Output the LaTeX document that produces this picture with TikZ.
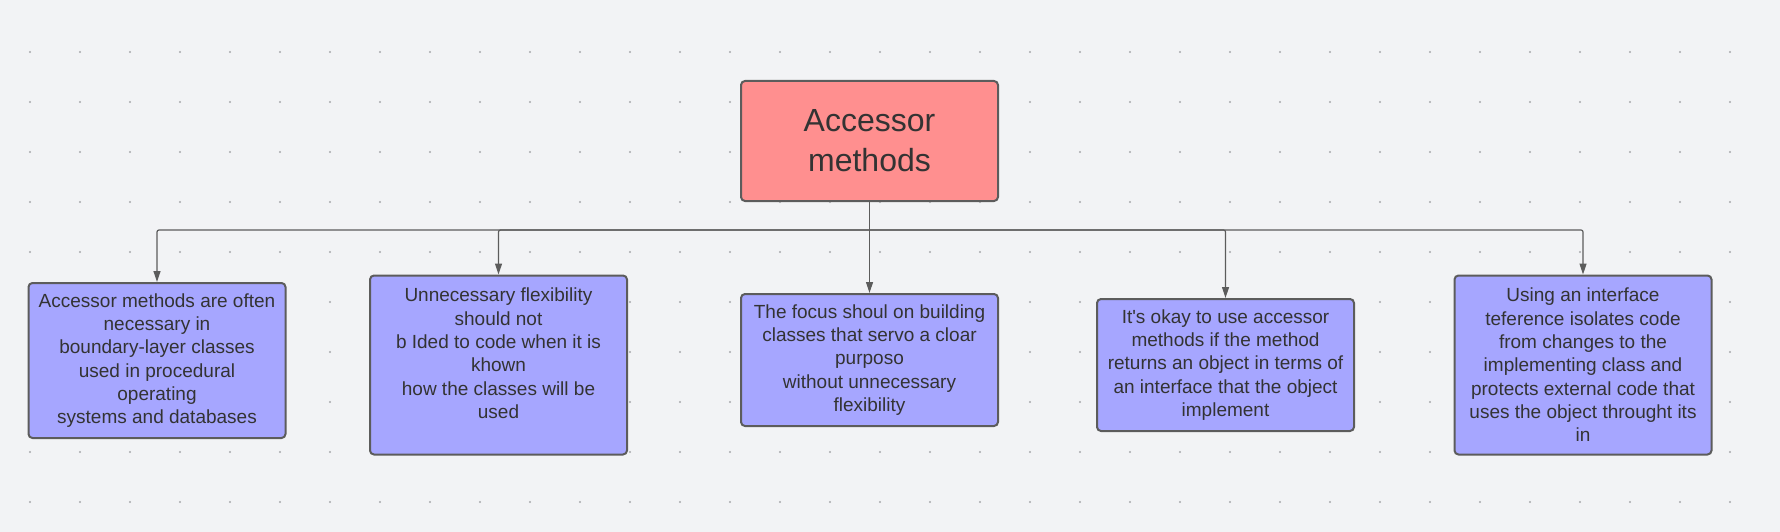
\documentclass[tikz,border=0pt]{standalone}
\usepackage{fontspec}
\setmainfont{Liberation Sans}
\usetikzlibrary{arrows.meta,positioning}
\definecolor{canvas}{HTML}{F2F3F5}
\definecolor{griddot}{HTML}{A8A9AC}
\definecolor{rootfill}{HTML}{FF8F8F}
\definecolor{leaffill}{HTML}{A6A6FF}
\definecolor{edgegray}{HTML}{5C5C5C}
\definecolor{inkgray}{HTML}{333333}
\tikzset{>={Triangle[length=11pt,width=7pt]},
         card/.style={draw=edgegray, line width=2pt, rounded corners=4pt,
           minimum width=257pt, align=center, text=inkgray, inner sep=4pt},
         rootcard/.style={card, fill=rootfill, minimum height=120pt,
           font=\fontsize{32}{40}\selectfont},
         leafcard/.style={card, fill=leaffill,
           font=\fontsize{19}{23.3}\selectfont},
         link/.style={->, draw=edgegray, line width=1.2pt, rounded corners=2pt}}

\begin{document}
\begin{tikzpicture}[x=1pt,y=-1pt]
  \fill[canvas] (0,0) rectangle (1780,532);
  \useasboundingbox (0,0) rectangle (1780,532);
  % dotted grid of the canvas
  \foreach \gx in {30,80,...,1730}
    \foreach \gy in {52,102,...,502}
      \fill[griddot] (\gx,\gy) circle (1.2pt);
  \node[rootcard] (acc) at (869.5,141) {Accessor\\methods};
  \node[leafcard, minimum height=155pt] (b1) at (157,360.5)
    {Accessor methods are often\\necessary in\\boundary-layer classes\\
     used in procedural\\operating\\systems and databases};
  \node[leafcard, minimum height=179pt] (b2) at (498.5,365)
    {Unnecessary flexibility\\should not\\b Ided to code when it is\\
     khown\\how the classes will be\\used\\\mbox{}};
  \node[leafcard, minimum height=132pt] (b3) at (869.5,360)
    {The focus shoul on building\\classes that servo a cloar\\purposo\\
     without unnecessary\\flexibility};
  \node[leafcard, minimum height=132pt] (b4) at (1225.5,365)
    {It\textquotesingle s okay to use accessor\\methods if the method\\
     returns an object in terms of\\an interface that the object\\implement};
  \node[leafcard, minimum height=179pt] (b5) at (1583,365)
    {Using an interface\\teference isolates code\\from changes to the\\
     implementing class and\\protects external code that\\
     uses the object throught its\\in};
  \coordinate (bus) at ([yshift=-28pt]acc.south);
  \draw[link] (acc.south) -- (b3.north);
  \foreach \leaf in {b1,b2,b4,b5}
    \draw[link] (bus) -| (\leaf.north);
\end{tikzpicture}
\end{document}
